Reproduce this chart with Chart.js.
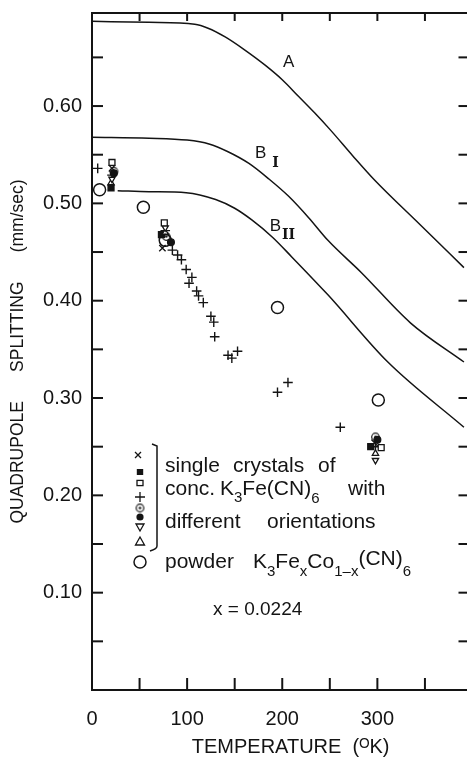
<!DOCTYPE html>
<html><head><meta charset="utf-8">
<script src="https://cdn.jsdelivr.net/npm/chart.js@4/dist/chart.umd.min.js"></script>
<style>html,body{margin:0;padding:0;background:#fff;overflow:hidden;width:467px;height:759px}canvas{display:block}</style>
</head><body><canvas id="c" width="480" height="759"></canvas>
<script>
// ---- tick labels ----
const xTickLabels = ['0', '100', '200', '300'];
const yTickLabels = ['0.10', '0.20', '0.30', '0.40', '0.50', '0.60'];

// ---- theoretical curves ----
const curveA_T  = [0, 60, 108, 122, 140, 160, 182, 200, 217, 234, 251, 274, 297, 345, 391];
const curveA_V  = [0.687, 0.686, 0.684, 0.680, 0.671, 0.658, 0.642, 0.627, 0.610, 0.593, 0.575, 0.549, 0.524, 0.478, 0.434];
const curveB1_T = [0, 60, 100, 123, 143, 165, 186, 207, 228, 248, 283, 335, 391];
const curveB1_V = [0.568, 0.567, 0.565, 0.561, 0.553, 0.541, 0.525, 0.507, 0.485, 0.462, 0.429, 0.377, 0.337];
const curveB2_T = [27, 60, 99, 130, 150, 168, 190, 210, 248, 311, 391];
const curveB2_V = [0.513, 0.512, 0.511, 0.504, 0.495, 0.483, 0.465, 0.445, 0.406, 0.337, 0.270];

// ---- measured points: single crystals (different orientations) ----
const plusT = [6, 21, 77, 84.5, 90, 94, 99, 105, 102, 110, 112, 117, 125, 128, 129, 143, 147, 153, 195, 206, 261, 298];
const plusV = [0.536, 0.529, 0.472, 0.452, 0.447, 0.442, 0.432, 0.424, 0.418, 0.410, 0.405, 0.398, 0.384, 0.378, 0.363, 0.344, 0.341, 0.348, 0.306, 0.316, 0.270, 0.250];
const crossT = [21, 74, 297];      const crossV = [0.536, 0.454, 0.254];
const openSqT = [21, 76, 304];     const openSqV = [0.542, 0.480, 0.249];
const fillSqT = [20, 73, 293];     const fillSqV = [0.516, 0.468, 0.250];
const dotCircT = [23, 78, 298];    const dotCircV = [0.533, 0.466, 0.260];
const fillCircT = [23, 83, 300];   const fillCircV = [0.531, 0.460, 0.257];
const downTriT = [21, 77, 298];    const downTriV = [0.525, 0.475, 0.236];
const upTriT = [20, 77, 298];      const upTriV = [0.521, 0.470, 0.243];
// ---- powder ----
const powderT = [8, 54, 77, 195, 301];
const powderV = [0.514, 0.496, 0.462, 0.393, 0.298];

const INK = '#141414';
const FAM = "'Liberation Sans', Arial, Helvetica, sans-serif";
Chart.defaults.font.family = FAM;
Chart.defaults.color = INK;

const pts = (T, V) => T.map((t, i) => ({x: t, y: V[i]}));

// circle-with-dot marker
const odot = document.createElement('canvas');
odot.width = 11; odot.height = 11;
(function(){ const g = odot.getContext('2d'); g.strokeStyle = INK; g.fillStyle = INK; g.lineWidth = 1.2;
  g.beginPath(); g.arc(5.5, 5.5, 3.8, 0, 2*Math.PI); g.stroke();
  g.beginPath(); g.arc(5.5, 5.5, 1.3, 0, 2*Math.PI); g.fill(); })();

function curve(T, V) {
  return {data: pts(T, V), showLine: true, borderColor: INK, borderWidth: 1.5, pointRadius: 0,
          cubicInterpolationMode: 'monotone', fill: false};
}
function marks(T, V, style, r, bg, extra) {
  return Object.assign({data: pts(T, V), showLine: false, pointStyle: style, pointRadius: r,
          borderColor: INK, backgroundColor: bg, pointBorderWidth: 1.3}, extra || {});
}

const datasets = [
  curve(curveA_T, curveA_V), curve(curveB1_T, curveB1_V), curve(curveB2_T, curveB2_V),
  marks(powderT, powderV, 'circle', 6, 'rgba(0,0,0,0)', {pointBorderWidth: 1.5}),
  marks(openSqT, openSqV, 'rect', 4.2, '#fff'),
  marks(downTriT, downTriV, 'triangle', 3.6, '#fff', {pointRotation: 180}),
  marks(upTriT, upTriV, 'triangle', 3.6, '#fff'),
  marks(dotCircT, dotCircV, odot, 5, INK),
  marks(fillSqT, fillSqV, 'rect', 4.2, INK),
  marks(fillCircT, fillCircV, 'circle', 3.4, INK),
  marks(crossT, crossV, 'crossRot', 4.5, INK),
  marks(plusT, plusV, 'cross', 4.8, INK, {pointBorderWidth: 1.4}),
];

function drawSym(ctx, kind, x, y) {
  ctx.save(); ctx.strokeStyle = INK; ctx.fillStyle = INK; ctx.lineWidth = 1.3;
  ctx.beginPath();
  if (kind === 'x') { ctx.moveTo(x-3,y-3); ctx.lineTo(x+3,y+3); ctx.moveTo(x+3,y-3); ctx.lineTo(x-3,y+3); ctx.stroke(); }
  else if (kind === 'sqf') { ctx.fillRect(x-3.2,y-3,6.4,6); }
  else if (kind === 'sq') { ctx.strokeRect(x-3,y-2.6,6,5.2); }
  else if (kind === 'plus') { ctx.moveTo(x-5,y); ctx.lineTo(x+5,y); ctx.moveTo(x,y-5); ctx.lineTo(x,y+5); ctx.stroke(); }
  else if (kind === 'odot') { ctx.drawImage(odot, x-5.5, y-5.5); }
  else if (kind === 'dot') { ctx.arc(x,y,3.6,0,2*Math.PI); ctx.fill(); }
  else if (kind === 'tdown') { ctx.moveTo(x-4,y-3); ctx.lineTo(x+4,y-3); ctx.lineTo(x,y+4); ctx.closePath(); ctx.stroke(); }
  else if (kind === 'tup') { ctx.moveTo(x-4.5,y+4); ctx.lineTo(x+4.5,y+4); ctx.lineTo(x,y-4); ctx.closePath(); ctx.stroke(); }
  else if (kind === 'circ') { ctx.lineWidth = 1.5; ctx.arc(x,y,6,0,2*Math.PI); ctx.stroke(); }
  ctx.restore();
}

function rich(ctx, x, y, parts) {
  let cx = x;
  for (const [t, size, dy] of parts) {
    ctx.font = size + 'px ' + FAM;
    ctx.fillText(t, cx, y + dy);
    cx += ctx.measureText(t).width;
  }
}

const decor = {
  id: 'decor',
  afterDraw(chart) {
    const {ctx, chartArea: a, scales: {x, y}} = chart;
    ctx.save();
    ctx.strokeStyle = INK; ctx.lineWidth = 2; ctx.lineCap = 'butt';
    const line = (x1, y1, x2, y2) => { ctx.beginPath(); ctx.moveTo(x1, y1); ctx.lineTo(x2, y2); ctx.stroke(); };
    // frame
    line(a.left, a.top - 1, a.left, a.bottom + 1);
    line(a.left - 1, a.bottom, a.right, a.bottom);
    line(a.left - 1, a.top, a.right, a.top);
    line(a.right, a.top, a.right, a.bottom);
    // inward ticks
    x.ticks.forEach(t => {
      const v = t.value; if (v <= 0 || v >= x.max || Math.round(v) % 50) return;
      const px = x.getPixelForValue(v);
      line(px, a.bottom, px, a.bottom - 12);
      line(px, a.top, px, a.top + 8);
    });
    y.ticks.forEach(t => {
      const v = t.value, k = Math.round(v * 100);
      if (k <= 0 || k % 5 || v > y.max - 0.01) return;
      const py = y.getPixelForValue(v);
      line(a.left, py, a.left + 11, py);
      line(a.right, py, a.right - 14, py);
    });
    // curve labels
    ctx.fillStyle = INK; ctx.textAlign = 'center'; ctx.textBaseline = 'middle';
    const P = (t, v) => [x.getPixelForValue(t), y.getPixelForValue(v)];
    ctx.font = '17px ' + FAM;
    let p = P(206.7, 0.6454); ctx.fillText('A', p[0], p[1]);
    p = P(177.3, 0.5519); ctx.fillText('B', p[0], p[1]);
    p = P(192.9, 0.4760); ctx.fillText('B', p[0], p[1]);
    ctx.font = "bold 14px 'DejaVu Serif', 'Liberation Serif', serif";
    p = P(192.9, 0.5416); ctx.fillText('I', p[0], p[1]);
    p = P(206.5, 0.4676); ctx.fillText('II', p[0], p[1]);
    // legend symbols
    [['x',138,455],['sqf',140,472],['sq',140,483],['plus',140,497],['odot',140,508],
     ['dot',140,517],['tdown',140,527],['tup',140,541],['circ',140,562]].forEach(s => drawSym(ctx, s[0], s[1], s[2]));
    // bracket
    ctx.lineWidth = 1.5;
    ctx.beginPath(); ctx.moveTo(152, 444); ctx.lineTo(157, 446); ctx.lineTo(157, 546);
    ctx.quadraticCurveTo(157, 549, 150, 551); ctx.stroke();
    // legend text
    ctx.textAlign = 'left'; ctx.textBaseline = 'alphabetic';
    ctx.font = '21px ' + FAM;
    ctx.fillText('single', 165, 472); ctx.fillText('crystals', 233, 472); ctx.fillText('of', 318, 472);
    ctx.fillText('conc.', 165, 495);
    rich(ctx, 220, 495, [['K',21,0],['3',15,7],['Fe(CN)',21,0],['6',15,8]]);
    ctx.font = '21px ' + FAM; ctx.fillText('with', 348, 495);
    ctx.fillText('different', 165, 528); ctx.fillText('orientations', 267, 528);
    ctx.fillText('powder', 165, 568);
    rich(ctx, 253, 568, [['K',21,0],['3',15,8],['Fe',21,0],['x',15,8],['Co',21,0],['1\u2013x',15,8],['(CN)',21,-3],['6',15,8]]);
    ctx.font = '19px ' + FAM; ctx.fillText('x = 0.0224', 213, 615);
    ctx.restore();
  }
};

function noPad(s) { s.paddingTop = 0; s.paddingBottom = 0; s.paddingLeft = 0; s.paddingRight = 0; }

new Chart(document.getElementById('c'), {
  type: 'scatter',
  data: {datasets},
  options: {
    responsive: false, animation: false, devicePixelRatio: 1, events: [],
    layout: {padding: {top: 13, right: 5, left: 0, bottom: 0}},
    plugins: {legend: {display: false}, tooltip: {enabled: false}},
    scales: {
      x: {
        type: 'linear', min: 0, max: 400,
        grid: {display: false, drawTicks: false}, border: {display: false},
        ticks: {stepSize: 50, autoSkip: false, maxRotation: 0, padding: 17, color: INK,
                font: {size: 20},
                callback: v => xTickLabels.includes(String(v)) ? String(v) : ''},
        title: {display: true, text: '   TEMPERATURE  (\u1D3CK)', color: INK, font: {size: 20},
                padding: {top: 0, bottom: 0}},
        afterFit: s => { s.height = 69; noPad(s); }
      },
      y: {
        type: 'linear', min: 0, max: 0.6956,
        grid: {display: false, drawTicks: false}, border: {display: false},
        ticks: {stepSize: 0.05, autoSkip: false, padding: 10, color: INK, font: {size: 20},
                callback: v => { const s = (Math.round(v * 100) / 100).toFixed(2); return yTickLabels.includes(s) ? s : ''; }},
        title: {display: true, text: 'QUADRUPOLE      SPLITTING      (mm/sec)', color: INK, font: {size: 17.5},
                padding: {top: 8, bottom: 0}},
        afterFit: s => { s.width = 92; noPad(s); }
      }
    }
  },
  plugins: [decor]
});
</script>
</body></html>
